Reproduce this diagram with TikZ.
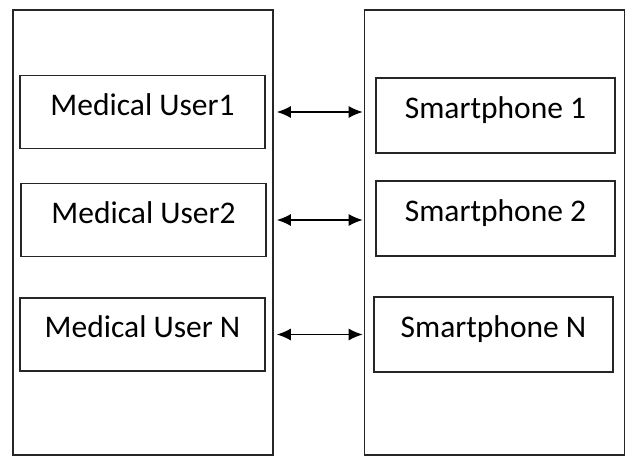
\documentclass[tikz,border=0pt]{standalone}
\usepackage{fontspec}
\setmainfont{Carlito}
\usetikzlibrary{arrows.meta}

\begin{document}
\begin{tikzpicture}
 [x=1pt,y=-1pt,
  outer/.style={draw=black!85,line width=1.6pt,minimum width=260pt,minimum height=445pt},
  usr/.style={draw=black!85,line width=1.6pt,minimum width=245pt,minimum height=73pt,
   font=\fontsize{31.5}{38}\selectfont,text height=20pt,text depth=14pt},
  phn/.style={usr,minimum width=239pt,minimum height=75pt},
  link/.style={<->,>={Latex[length=14pt,width=12pt]},line width=1.5pt,shorten <=3pt,shorten >=1pt}]
 \useasboundingbox (0,0) rectangle (626,456);
 \node[outer] (users) at (143,232.5) {};
 \node[outer] (phones) at (494.5,232.5) {};
 \node[usr] (u1) at (142.5,112) {Medical User1};
 \node[usr] (u2) at (143.5,220) {Medical User2};
 \node[usr] (un) at (142.5,334.5) {Medical User N};
 \node[phn] (p1) at (495.5,115.5) {Smartphone 1};
 \node[phn] (p2) at (495.5,218.5) {Smartphone 2};
 \node[phn] (pn) at (493.5,334.5) {Smartphone N};
 \draw[link] (u1 -| users.east) -- (u1 -| phones.west);
 \draw[link] (u2 -| users.east) -- (u2 -| phones.west);
 \draw[link] (un -| users.east) -- (un -| phones.west);
\end{tikzpicture}
\end{document}
